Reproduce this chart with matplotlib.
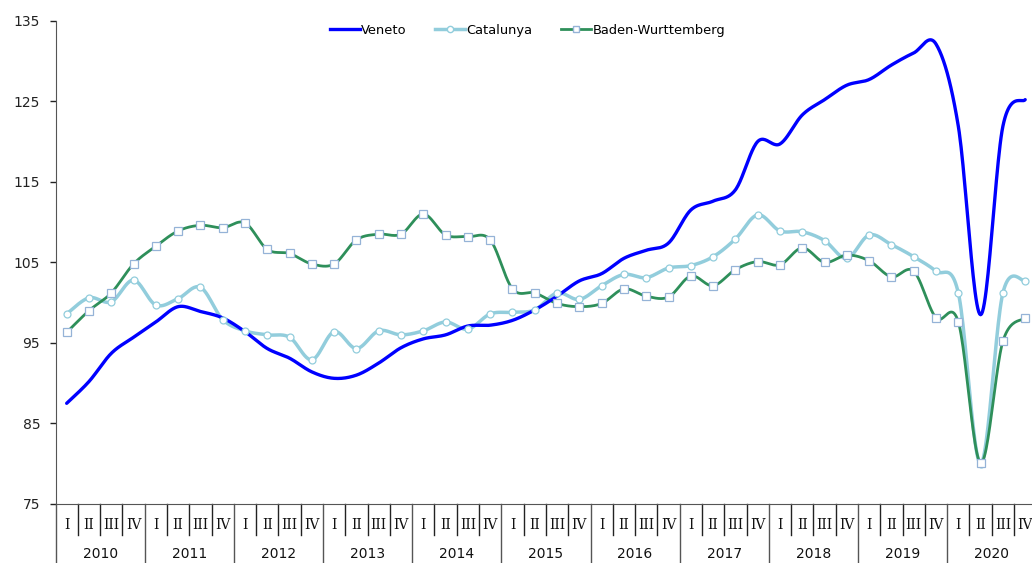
import numpy as np
import matplotlib
matplotlib.use("Agg")
import matplotlib.pyplot as plt
from matplotlib.lines import Line2D

years = [str(y) for y in range(2010, 2021)]
quarters = ["I", "II", "III", "IV"]

veneto = [87.5, 90.2, 93.7, 95.7, 97.6, 99.5, 98.9, 98.1, 96.4, 94.3, 93.1, 91.4,
          90.6, 91.0, 92.5, 94.4, 95.5, 96.0, 97.1, 97.2, 97.8, 99.1, 100.8, 102.7,
          103.6, 105.5, 106.5, 107.4, 111.5, 112.6, 114.0, 120.0, 119.7, 123.3, 125.2, 127.0,
          127.7, 129.5, 131.0, 132.1, 121.9, 98.5, 121.9, 125.2]
catalunya = [98.6, 100.6, 100.1, 102.8, 99.7, 100.5, 101.9, 97.9, 96.5, 96.0, 95.7, 92.9,
             96.4, 94.3, 96.5, 96.0, 96.5, 97.6, 96.7, 98.6, 98.8, 99.1, 101.2, 100.4,
             102.1, 103.5, 103.1, 104.3, 104.6, 105.7, 107.9, 110.9, 108.9, 108.8, 107.7, 105.5,
             108.4, 107.2, 105.7, 103.9, 101.2, 80.0, 101.2, 102.7]
baden = [96.3, 99.0, 101.2, 104.8, 107.0, 108.9, 109.6, 109.3, 109.9, 106.6, 106.1, 104.8,
         104.8, 107.8, 108.5, 108.5, 111.0, 108.4, 108.2, 107.8, 101.7, 101.2, 99.9, 99.5,
         99.9, 101.7, 100.8, 100.7, 103.3, 102.1, 104.1, 105.1, 104.7, 106.8, 105.0, 105.9,
         105.2, 103.2, 103.9, 98.1, 97.6, 80.1, 95.2, 98.1]

C_VEN = "#0000FF"
C_CAT = "#92CDDC"
C_BAD = "#2E8F5A"
C_SQ = "#95B3D7"


def smooth(x, y, n=24):
    pts = np.column_stack([x, y]).astype(float)
    out = []
    m = len(pts)
    for i in range(m - 1):
        p0 = pts[i - 1] if i > 0 else pts[i]
        p1 = pts[i]
        p2 = pts[i + 1]
        p3 = pts[i + 2] if i + 2 < m else pts[i + 1]
        c1 = p1 + (p2 - p0) / 6.0
        c2 = p2 - (p3 - p1) / 6.0
        t = np.linspace(0, 1, n, endpoint=(i == m - 2))[:, None]
        seg = ((1 - t) ** 3) * p1 + 3 * ((1 - t) ** 2) * t * c1 + 3 * (1 - t) * t ** 2 * c2 + t ** 3 * p2
        out.append(seg)
    out = np.vstack(out)
    return out[:, 0], out[:, 1]


fig = plt.figure(figsize=(10.32, 5.63), dpi=100)
ax = fig.add_axes([0.0538, 0.1048, 0.9504, 0.8584])

x = np.arange(len(veneto))

sx, sy = smooth(x, veneto)
ax.plot(sx, sy, color=C_VEN, lw=2.4, solid_capstyle="round", zorder=4)
sx, sy = smooth(x, catalunya)
ax.plot(sx, sy, color=C_CAT, lw=2.5, zorder=3)
ax.plot(x, catalunya, ls="none", marker="o", ms=5, mfc="white", mec=C_CAT, mew=0.9, zorder=5)
sx, sy = smooth(x, baden)
ax.plot(sx, sy, color=C_BAD, lw=2.0, zorder=3)
ax.plot(x, baden, ls="none", marker="s", ms=6, mfc="white", mec=C_SQ, mew=0.9, zorder=5)

ax.set_xlim(-0.5, len(veneto) - 0.5)
ax.set_ylim(75, 135)
ax.set_yticks(np.arange(75, 136, 10))
ax.tick_params(axis="y", direction="out", length=4, width=1, pad=7, labelsize=10, colors="#222222")
ax.tick_params(axis="x", bottom=False, labelbottom=False)
for s in ["top", "right"]:
    ax.spines[s].set_visible(False)
ax.spines["left"].set_color("#555555")
ax.spines["bottom"].set_color("#555555")

tr = ax.get_xaxis_transform()
n = len(veneto)
for k in range(n + 1):
    xb = k - 0.5
    if k % 4 == 0:
        ax.plot([xb, xb], [0, -0.13], transform=tr, color="#555555", lw=1, clip_on=False)
    else:
        ax.plot([xb, xb], [0, -0.064], transform=tr, color="#222222", lw=1, clip_on=False)
for k in range(n):
    ax.text(k, -0.044, quarters[k % 4], transform=tr, ha="center", va="center",
            fontsize=10, color="#111111", family="DejaVu Serif")
for j, yr in enumerate(years):
    ax.text(4 * j + 1.5, -0.1035, yr, transform=tr, ha="center", va="center",
            fontsize=10, color="#111111")

handles = [
    Line2D([], [], color=C_VEN, lw=2.4),
    Line2D([], [], color=C_CAT, lw=2.5, marker="o", ms=4.5, mfc="white", mec=C_CAT),
    Line2D([], [], color=C_BAD, lw=2.0, marker="s", ms=5, mfc="white", mec=C_SQ),
]
fig.legend(handles, ["Veneto", "Catalunya", "Baden-Wurttemberg"], loc="center",
           bbox_to_anchor=(0.511, 0.946), ncol=3, frameon=False, fontsize=9.4,
           handlelength=2.3, handletextpad=0.1, columnspacing=2.2)

fig.savefig("out.png", dpi=100)
